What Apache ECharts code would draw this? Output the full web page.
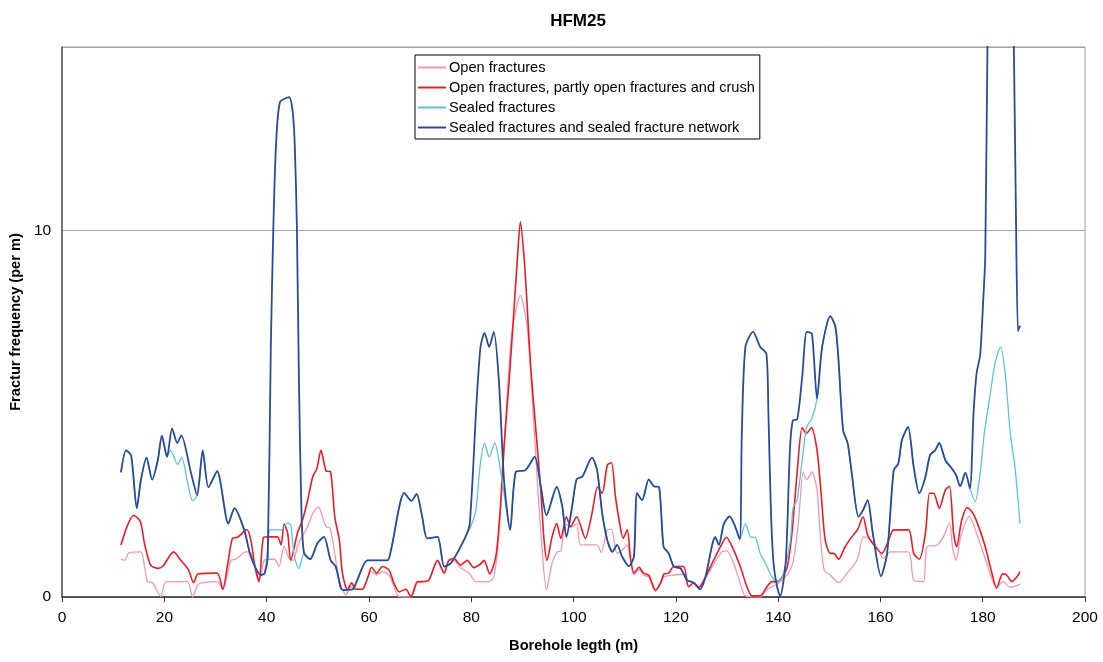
<!DOCTYPE html>
<html>
<head>
<meta charset="utf-8">
<title>HFM25</title>
<script src="https://cdn.jsdelivr.net/npm/echarts@6/dist/echarts.min.js"></script>
<style>
  html, body { margin: 0; padding: 0; background: #fff; }
  #chart { width: 1103px; height: 662px; }
</style>
</head>
<body>
<div id="chart"></div>
<script>
// borehole length (m) / fracture frequency (per m)
const openDepth = [11.5, 12.2, 13.1, 15.4, 16.1, 16.7, 17.7, 19.3, 20.3, 24.5, 25.5, 26.5, 27.5, 30.3, 31.4, 33.0, 34.0, 35.9, 36.9, 37.9, 38.5, 39.5, 40.2, 41.5, 42.4, 43.4, 44.4, 45.2, 46.0, 46.7, 48.0, 49.0, 50.1, 50.9, 51.6, 52.4, 53.2, 54.2, 55.5, 56.4, 57.4, 58.7, 60.4, 61.5, 62.6, 63.9, 64.9, 65.7, 67.2, 68.2, 69.5, 70.4, 71.7, 73.4, 74.7, 75.6, 76.6, 77.9, 79.6, 80.9, 83.5, 84.4, 85.2, 86.1, 87.0, 88.0, 89.6, 91.0, 91.9, 92.9, 93.8, 94.7, 95.8, 96.8, 97.5, 98.4, 99.4, 100.6, 101.4, 104.6, 105.4, 106.6, 107.4, 108.5, 109.5, 110.5, 111.1, 111.8, 112.8, 113.7, 114.7, 116.0, 117.0, 117.7, 119.6, 121.5, 122.5, 123.5, 124.5, 125.8, 127.1, 129.0, 130.0, 131.3, 132.6, 133.6, 136.5, 137.8, 139.8, 141.0, 142.0, 143.0, 144.0, 144.9, 145.6, 146.6, 147.6, 148.2, 149.0, 150.2, 151.8, 153.5, 155.4, 156.7, 157.7, 159.3, 160.6, 161.9, 165.5, 166.5, 168.4, 169.1, 171.1, 172.3, 173.5, 174.1, 174.8, 175.7, 177.4, 178.8, 180.8, 182.7, 184.0, 185.4, 187.3]
const openFreq = [1.03, 1.0, 1.21, 1.23, 0.83, 0.42, 0.39, 0.01, 0.42, 0.42, 0.0, 0.33, 0.39, 0.42, 0.21, 1.0, 1.03, 1.23, 1.2, 0.74, 0.46, 1.0, 1.03, 1.03, 0.83, 1.39, 1.05, 1.0, 1.37, 1.6, 1.92, 2.28, 2.46, 2.19, 1.92, 1.87, 1.28, 0.46, 0.05, 0.28, 0.21, 0.21, 0.69, 0.6, 0.69, 0.6, 0.28, 0.03, 0.0, 0.0, 0.4, 0.42, 0.46, 1.0, 0.65, 1.0, 1.0, 0.8, 0.65, 0.42, 0.42, 0.55, 1.37, 3.19, 5.46, 7.27, 8.23, 7.27, 5.46, 3.19, 1.37, 0.19, 0.92, 1.23, 1.25, 2.0, 1.9, 2.0, 1.42, 1.42, 1.21, 1.83, 1.85, 1.19, 1.28, 1.42, 1.0, 0.6, 0.75, 0.6, 0.55, 0.15, 0.42, 0.55, 0.6, 0.62, 0.28, 0.39, 0.26, 0.5, 0.83, 1.23, 1.26, 0.92, 0.37, 0.03, 0.0, 0.2, 0.35, 0.5, 0.65, 1.0, 2.1, 3.41, 3.2, 3.41, 2.92, 1.74, 0.74, 0.6, 0.39, 0.65, 1.0, 1.64, 1.6, 1.37, 1.05, 1.23, 1.23, 0.46, 0.42, 1.37, 1.42, 1.64, 2.02, 1.37, 1.0, 1.64, 2.2, 1.74, 0.92, 0.26, 0.42, 0.26, 0.35]

const crushDepth = [11.5, 12.8, 14.0, 15.3, 16.1, 17.3, 18.7, 19.7, 21.8, 23.2, 24.7, 25.7, 26.6, 30.3, 31.4, 32.4, 33.3, 34.3, 36.1, 36.9, 37.7, 38.5, 39.4, 40.5, 42.1, 42.8, 43.4, 44.1, 44.7, 46.0, 47.0, 48.0, 49.0, 49.8, 50.6, 51.6, 52.5, 53.3, 54.2, 54.8, 55.8, 56.6, 57.4, 58.7, 59.8, 60.5, 61.5, 62.6, 63.9, 64.9, 65.9, 67.2, 68.2, 69.5, 70.4, 71.7, 73.4, 74.7, 75.6, 76.6, 77.9, 79.2, 80.5, 81.8, 82.5, 83.6, 84.8, 85.6, 86.4, 87.4, 88.3, 89.0, 89.6, 90.3, 90.9, 91.6, 92.6, 93.6, 94.2, 94.8, 95.8, 96.7, 97.5, 98.6, 99.4, 100.6, 102.3, 103.6, 104.7, 105.6, 106.6, 107.4, 108.2, 108.9, 109.7, 110.5, 111.1, 111.8, 112.8, 113.7, 114.7, 116.0, 117.0, 117.7, 118.6, 119.6, 121.5, 122.5, 123.5, 124.5, 125.8, 127.1, 128.7, 129.9, 131.3, 132.6, 133.9, 134.9, 136.5, 137.8, 138.8, 139.8, 140.8, 141.8, 142.7, 143.7, 144.7, 145.5, 146.5, 147.6, 148.4, 149.2, 150.2, 150.9, 151.8, 153.1, 154.4, 155.5, 156.6, 157.5, 158.7, 160.3, 161.6, 162.6, 165.5, 166.5, 167.6, 168.8, 169.6, 170.4, 171.5, 172.7, 173.5, 174.3, 174.9, 175.9, 177.0, 178.1, 179.2, 180.5, 181.8, 182.7, 183.9, 184.7, 185.7, 186.7, 187.3]
const crushFreq = [1.42, 1.96, 2.23, 2.05, 1.46, 0.87, 0.78, 0.84, 1.23, 1.0, 0.74, 0.39, 0.63, 0.65, 0.21, 0.92, 1.6, 1.63, 1.84, 1.55, 0.83, 0.42, 1.63, 1.64, 1.64, 1.42, 1.99, 1.74, 1.0, 1.74, 2.1, 2.64, 3.28, 3.5, 4.0, 3.44, 3.41, 2.19, 1.55, 0.65, 0.19, 0.39, 0.21, 0.21, 0.55, 0.81, 0.65, 0.83, 0.74, 0.37, 0.14, 0.21, 0.01, 0.42, 0.42, 0.46, 1.0, 0.65, 1.0, 1.05, 0.87, 1.0, 0.8, 0.9, 1.0, 0.63, 1.1, 2.28, 4.1, 5.9, 7.73, 9.2, 10.23, 9.3, 8.0, 6.3, 4.6, 2.9, 1.6, 1.0, 1.64, 2.0, 1.6, 2.19, 1.92, 2.19, 1.6, 2.28, 3.0, 2.83, 3.6, 3.66, 2.73, 2.1, 1.6, 1.83, 1.1, 0.65, 0.81, 0.65, 0.6, 0.19, 0.37, 0.63, 0.65, 0.83, 0.83, 0.28, 0.39, 0.26, 0.55, 0.92, 1.37, 1.63, 1.28, 0.83, 0.28, 0.03, 0.03, 0.28, 0.42, 0.42, 0.55, 0.83, 1.74, 3.37, 4.62, 4.46, 4.62, 4.0, 2.83, 1.55, 1.19, 1.19, 1.03, 1.37, 1.64, 1.83, 2.19, 1.69, 1.42, 1.19, 1.55, 1.83, 1.83, 1.19, 1.03, 1.74, 2.83, 2.83, 2.42, 2.92, 3.02, 1.74, 1.37, 2.1, 2.44, 2.28, 1.92, 1.37, 0.65, 0.24, 0.63, 0.6, 0.42, 0.55, 0.69]

const sealedDepth = [11.5, 12.5, 13.5, 14.6, 15.4, 16.5, 17.6, 18.7, 19.5, 20.5, 21.2, 22.6, 23.4, 24.5, 25.5, 26.4, 27.5, 28.6, 30.3, 32.5, 33.7, 35.6, 36.9, 38.9, 39.6, 40.3, 40.7, 42.8, 44.1, 44.7, 45.4, 46.3, 47.3, 48.5, 49.9, 51.2, 52.5, 53.5, 54.5, 55.1, 56.8, 57.7, 59.7, 63.6, 64.3, 66.9, 68.3, 69.3, 70.4, 71.4, 73.4, 74.7, 76.0, 77.9, 79.2, 79.9, 80.9, 81.7, 82.6, 83.5, 84.6, 85.6, 86.4, 87.6, 88.7, 90.6, 92.4, 93.6, 94.7, 96.7, 97.8, 98.6, 99.7, 100.6, 101.7, 103.6, 104.6, 105.6, 106.6, 107.6, 108.5, 109.5, 110.8, 111.8, 112.4, 113.4, 114.7, 115.7, 116.7, 117.6, 118.6, 119.6, 120.9, 122.2, 123.5, 124.7, 125.8, 127.1, 127.7, 128.4, 129.4, 130.5, 131.6, 132.5, 133.6, 134.6, 135.5, 136.5, 137.5, 138.8, 139.6, 140.4, 141.5, 142.4, 142.9, 143.7, 144.7, 145.6, 146.6, 147.6, 148.6, 150.2, 151.2, 151.8, 152.7, 153.6, 154.4, 155.7, 156.6, 157.5, 158.5, 160.1, 161.3, 162.6, 163.5, 164.2, 165.4, 166.5, 167.6, 168.8, 169.7, 170.7, 171.5, 172.7, 174.0, 174.8, 175.6, 176.6, 177.5, 178.5, 179.5, 180.3, 181.3, 182.4, 183.5, 184.4, 185.4, 186.3, 187.3]
const sealedFreq = [3.4, 4.0, 3.85, 2.42, 3.19, 3.8, 3.2, 3.73, 4.4, 3.82, 4.0, 3.62, 3.8, 3.14, 2.62, 2.78, 4.0, 2.99, 3.43, 2.0, 2.42, 1.83, 1.1, 0.6, 0.65, 1.5, 1.84, 1.83, 2.02, 1.96, 1.1, 0.78, 1.19, 1.03, 1.46, 1.64, 1.0, 0.83, 0.24, 0.19, 0.21, 0.46, 1.0, 1.0, 1.28, 2.84, 2.62, 2.81, 2.19, 1.6, 1.64, 0.83, 0.92, 1.37, 1.74, 1.92, 2.37, 3.55, 4.2, 3.82, 4.2, 3.55, 2.83, 1.83, 3.41, 3.46, 3.82, 3.0, 2.23, 3.0, 2.46, 1.64, 2.46, 3.21, 3.28, 3.8, 3.46, 2.28, 1.55, 1.23, 1.42, 1.1, 0.84, 1.1, 2.83, 2.64, 3.21, 3.02, 3.0, 1.37, 1.19, 0.83, 0.78, 0.46, 0.39, 0.21, 0.55, 1.42, 1.63, 1.42, 2.0, 2.2, 1.92, 1.57, 2.0, 1.64, 1.63, 1.19, 0.92, 0.55, 0.45, 0.45, 0.9, 1.55, 2.42, 2.64, 3.73, 4.64, 4.87, 5.41, 6.82, 7.66, 7.37, 6.46, 4.55, 4.19, 3.37, 2.19, 2.37, 2.64, 1.74, 0.57, 1.19, 3.46, 3.64, 4.28, 4.64, 3.55, 2.83, 3.28, 3.87, 4.0, 4.2, 3.73, 3.5, 3.32, 3.02, 3.39, 2.96, 2.6, 3.37, 4.46, 5.37, 6.37, 6.82, 6.1, 4.46, 3.55, 2.0]

const networkDepth = [11.5, 12.5, 13.5, 14.6, 15.4, 16.5, 17.6, 18.7, 19.5, 20.5, 21.5, 22.5, 23.3, 25.2, 26.4, 27.5, 28.6, 30.3, 32.5, 33.7, 35.6, 36.9, 38.9, 39.6, 40.2, 40.8, 41.3, 41.8, 42.6, 44.4, 45.1, 45.5, 45.9, 46.3, 46.8, 47.3, 48.5, 49.9, 51.2, 52.5, 53.5, 54.5, 55.1, 56.8, 57.7, 59.7, 63.6, 64.3, 66.9, 68.3, 69.3, 70.4, 71.4, 73.4, 74.7, 76.0, 77.9, 79.2, 79.7, 80.4, 80.9, 81.8, 82.6, 83.5, 84.4, 85.4, 86.4, 87.6, 88.7, 90.6, 92.4, 93.6, 94.7, 96.7, 97.8, 98.6, 99.7, 100.6, 101.7, 103.6, 104.6, 105.6, 106.6, 107.6, 108.5, 109.5, 110.8, 111.8, 112.4, 113.4, 114.7, 115.7, 116.7, 117.6, 118.6, 119.6, 120.9, 122.2, 123.5, 124.7, 125.8, 127.1, 127.7, 128.4, 129.4, 130.5, 131.6, 132.5, 132.9, 133.6, 135.1, 136.5, 137.7, 138.1, 138.6, 139.1, 139.8, 140.4, 141.5, 142.3, 142.9, 143.7, 144.7, 145.6, 146.6, 147.6, 148.6, 150.2, 151.2, 151.8, 152.7, 153.6, 154.4, 155.7, 156.6, 157.5, 158.5, 160.1, 161.3, 162.6, 163.5, 164.2, 165.4, 166.5, 167.6, 168.8, 169.7, 170.7, 171.5, 172.7, 174.0, 174.8, 175.6, 176.6, 177.5, 178.2, 178.8, 179.5, 180.1, 180.5, 181.0, 182.0, 183.5, 185.0, 186.0, 186.5, 186.9, 187.3]
const networkFreq = [3.4, 4.0, 3.85, 2.42, 3.19, 3.8, 3.2, 3.73, 4.4, 3.82, 4.6, 4.2, 4.41, 3.38, 2.78, 4.0, 2.99, 3.43, 2.0, 2.42, 1.83, 1.1, 0.6, 0.65, 1.1, 6.8, 10.1, 12.27, 13.5, 13.63, 13.2, 12.27, 10.1, 5.9, 2.3, 1.2, 1.03, 1.46, 1.64, 1.0, 0.83, 0.24, 0.19, 0.21, 0.46, 1.0, 1.0, 1.28, 2.84, 2.62, 2.81, 2.19, 1.6, 1.64, 0.83, 0.92, 1.37, 1.74, 2.0, 3.6, 5.0, 6.82, 7.2, 6.82, 7.23, 5.9, 3.19, 1.83, 3.41, 3.46, 3.82, 3.0, 2.23, 3.0, 2.46, 1.64, 2.46, 3.21, 3.28, 3.8, 3.46, 2.28, 1.55, 1.23, 1.42, 1.1, 0.84, 1.1, 2.83, 2.64, 3.21, 3.02, 3.0, 1.37, 1.19, 0.83, 0.78, 0.46, 0.39, 0.21, 0.55, 1.42, 1.63, 1.42, 2.0, 2.2, 1.92, 1.57, 4.46, 6.82, 7.23, 6.82, 6.64, 5.0, 2.28, 0.92, 0.28, 0.02, 1.0, 4.0, 4.82, 4.84, 6.0, 7.23, 7.18, 5.41, 6.82, 7.66, 7.37, 6.46, 4.55, 4.19, 3.37, 2.19, 2.37, 2.64, 1.74, 0.57, 1.19, 3.46, 3.64, 4.28, 4.64, 3.55, 2.83, 3.28, 3.87, 4.0, 4.2, 3.73, 3.5, 3.32, 3.02, 3.39, 2.96, 5.0, 6.1, 6.6, 8.1, 9.3, 16, 24, 27, 24, 16, 10.4, 7.25, 7.4]

const seriesNames = [
  'Open fractures',
  'Open fractures, partly open fractures and crush',
  'Sealed fractures',
  'Sealed fractures and sealed fracture network'
]
const seriesColors = ['#f296b9', '#ec1c24', '#5bc5d6', '#2a4b9b']
const xTicks = { min: 0, max: 200, interval: 20 }
const yTicks = { min: 0, max: 15, interval: 10 }

function pairs(xs, ys) {
  return xs.map((x, i) => [x, ys[i]])
}

let chart = echarts.init(document.getElementById('chart'), null, { renderer: 'canvas' })
const font = '"Liberation Sans", Arial, sans-serif'
const lineData = [
  pairs(openDepth, openFreq),
  pairs(crushDepth, crushFreq),
  pairs(sealedDepth, sealedFreq),
  pairs(networkDepth, networkFreq)
]
const widths = [1.3, 1.6, 1.3, 1.8]

let option = {
  animation: false,
  backgroundColor: '#fff',
  color: seriesColors,
  textStyle: { fontFamily: font },
  title: {
    text: 'HFM25',
    left: 573,
    top: 8,
    textAlign: 'center',
    textStyle: { fontSize: 17, fontWeight: 'bold', color: '#000', fontFamily: font }
  },
  legend: {
    orient: 'vertical',
    left: 415,
    top: 55,
    padding: [5, 5, 4, 3],
    itemGap: 5,
    itemWidth: 28,
    itemHeight: 2,
    icon: 'rect',
    borderColor: '#000',
    borderWidth: 1,
    backgroundColor: '#fff',
    textStyle: { fontSize: 14.6, color: '#000', fontFamily: font, lineHeight: 14, padding: [0, 0, 0, -2] },
    data: seriesNames
  },
  grid: {
    left: 61,
    right: 18,
    top: 47,
    bottom: 65,
    show: true,
    borderColor: '#a0a0a0',
    borderWidth: 1,
    containLabel: false
  },
  xAxis: {
    type: 'value',
    min: xTicks.min,
    max: xTicks.max,
    interval: xTicks.interval,
    name: 'Borehole legth (m)',
    nameLocation: 'middle',
    nameGap: 41,
    nameTextStyle: { fontSize: 14.6, fontWeight: 'bold', color: '#000', fontFamily: font },
    axisLine: { show: true, lineStyle: { color: '#333', width: 1.5 } },
    axisTick: { show: true, inside: false, length: 5, lineStyle: { color: '#333' } },
    axisLabel: { fontSize: 15.5, color: '#000', margin: 13, fontFamily: font },
    splitLine: { show: false }
  },
  yAxis: {
    type: 'value',
    min: yTicks.min,
    max: yTicks.max,
    interval: yTicks.interval,
    name: 'Fractur frequency (per m)',
    nameLocation: 'middle',
    nameGap: 34,
    nameTextStyle: { fontSize: 14.6, fontWeight: 'bold', color: '#000', fontFamily: font },
    axisLine: { show: true, lineStyle: { color: '#555', width: 1.5 } },
    axisTick: { show: false },
    axisLabel: {
      fontSize: 15.5,
      color: '#000',
      margin: 11,
      fontFamily: font,
      formatter: (v) => (v % yTicks.interval === 0 ? String(v) : '')
    },
    splitLine: { show: true, lineStyle: { color: '#a6a6a6', width: 1 } }
  },
  series: seriesNames.map((name, i) => ({
    name: name,
    type: 'line',
    data: lineData[i],
    showSymbol: false,
    symbol: 'none',
    smooth: 0.25,
    clip: true,
    lineStyle: { color: seriesColors[i], width: widths[i] },
    itemStyle: { color: seriesColors[i] },
    z: 2 + i
  }))
}

chart.setOption(option)
</script>
</body>
</html>
